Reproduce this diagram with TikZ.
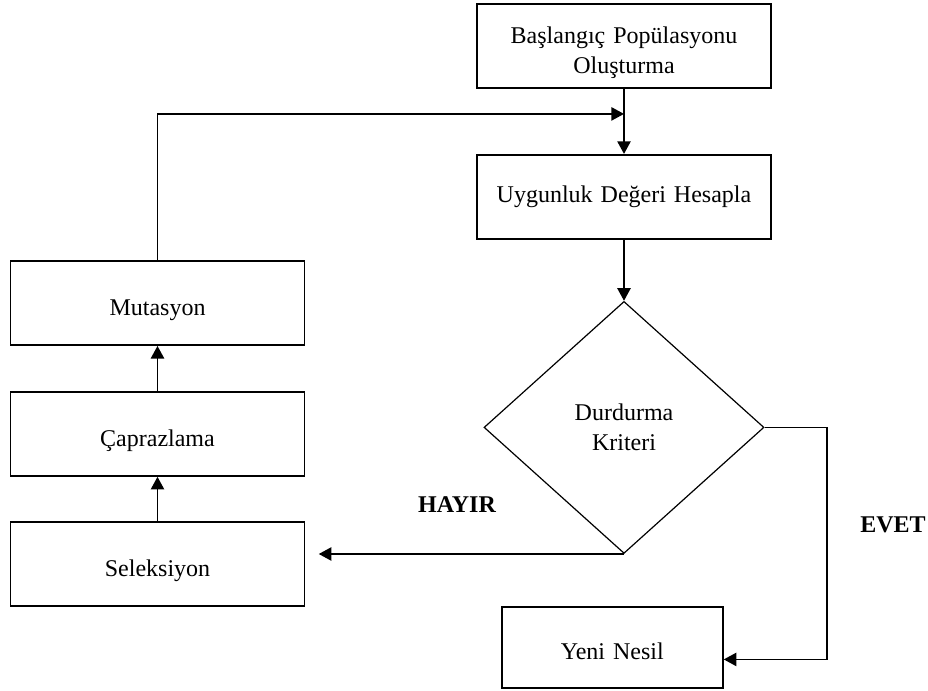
\documentclass[tikz,border=0pt]{standalone}
\usepackage{fontspec}
\setmainfont{Liberation Serif}
\usepackage{tikz}
\usetikzlibrary{shapes.geometric, arrows.meta, positioning}

\begin{document}
\begin{tikzpicture}[
    x=0.75pt, y=-0.75pt,
    every node/.style={font=\fontsize{18pt}{22.5pt}\selectfont},
    block/.style={rectangle, draw, line width=1.4pt, text width=200pt, align=center, minimum width=220.5pt, minimum height=63pt, inner sep=0pt, text height=18.8pt, text depth=0pt},
    decision/.style={diamond, draw, line width=0.9pt, align=center, minimum width=210pt, minimum height=189pt, inner sep=0pt},
    label/.style={font=\fontsize{18pt}{22.5pt}\selectfont\bfseries},
    arrow/.style={line width=1.2pt, ->, >={Triangle[length=9.5pt, width=10pt]}}
]
    \useasboundingbox (0,0) rectangle (928,691);

    % Main column
    \node (start) [block, text height=12.6pt, text depth=16.3pt] at (624,46) {Başlangıç Popülasyonu \\ Oluşturma};
    \node (fitness) [block, below=48.75pt of start, text height=12.5pt, text depth=3.5pt] {Uygunluk Değeri Hesapla};
    \node (crit) [decision, below=45.75pt of fitness] {Durdurma \\ Kriteri};
    \node (newgen) [block, text width=150pt, minimum width=165.75pt, minimum height=60.75pt, below=39pt of crit, xshift=-8.75pt] {Yeni Nesil};

    % Left column
    \node (mut) [block] at (157.5,303) {Mutasyon};
    \node (cross) [block, below=33.75pt of mut] {Çaprazlama};
    \node (sel) [block, below=33pt of cross] {Seleksiyon};

    % Helper points
    \coordinate [below=18.75pt of start] (merge);
    \coordinate [right=47pt of crit.east] (turn);

    % Labels
    \node (no) [label] at (457,505) {HAYIR};
    \node (yes) [label] at (893,525) {EVET};

    % Arrows
    \draw [arrow] (start) -- (fitness);
    \draw [arrow] (fitness) -- (crit);
    \draw [arrow, shorten >=10pt] (crit.south) -- (crit.south -| sel.east);
    \draw [arrow] (crit.east) -- (turn) |- ([yshift=-9pt]newgen.east);
    \draw [arrow] (sel) -- (cross);
    \draw [arrow] (cross) -- (mut);
    \draw [arrow] (mut.north) |- (merge);

\end{tikzpicture}
\end{document}
